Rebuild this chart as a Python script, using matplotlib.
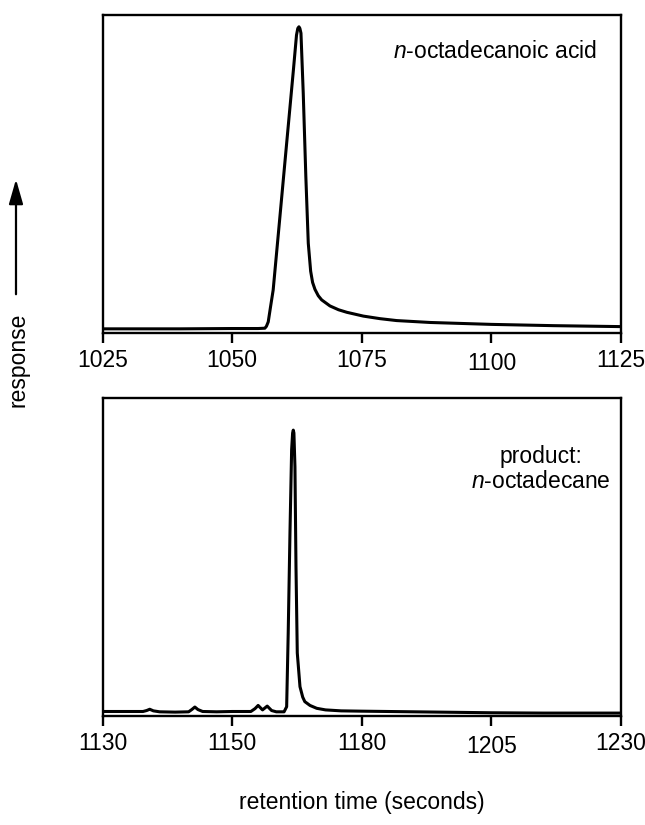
import matplotlib
matplotlib.use("Agg")
import matplotlib.pyplot as plt
from matplotlib.patches import FancyArrowPatch
from matplotlib.transforms import ScaledTranslation

plt.rcParams['font.family'] = ['Liberation Sans', 'DejaVu Sans']
plt.rcParams['mathtext.fontset'] = 'custom'
plt.rcParams['mathtext.it'] = 'Liberation Sans:italic'
plt.rcParams['mathtext.rm'] = 'Liberation Sans'

# top panel: n-octadecanoic acid (retention time in s, normalised response)
acid_time = [1025, 1040, 1050, 1055, 1056.3, 1056.6, 1056.95, 1057.4, 1057.9,
             1059.2, 1060.5, 1061.8, 1062.4, 1062.65, 1062.87, 1063.05,
             1063.26, 1063.7, 1064.2, 1064.67, 1065.13, 1065.5, 1065.96,
             1066.6, 1067.25, 1068.85, 1070.5, 1072.1, 1075.3, 1078.5,
             1081.7, 1088.2, 1100, 1112, 1125]
acid_resp = [0.014, 0.014, 0.015, 0.015, 0.016, 0.022, 0.036, 0.084, 0.136,
             0.366, 0.597, 0.827, 0.937, 0.958, 0.963, 0.958,
             0.943, 0.754, 0.492, 0.283, 0.195, 0.160, 0.138,
             0.118, 0.105, 0.086, 0.074, 0.066, 0.054, 0.046,
             0.040, 0.034, 0.028, 0.024, 0.021]

# bottom panel: product n-octadecane
alk_time = [1130, 1135, 1137.8, 1138.5, 1139.1, 1139.8, 1141, 1144, 1146.6,
            1147.2, 1147.8, 1148.4, 1149.3, 1152, 1155, 1158.6, 1159.4, 1160.0,
            1160.85, 1161.75, 1162.6, 1163.5, 1165.0, 1165.5, 1165.8, 1166.14,
            1166.46, 1166.65, 1166.78, 1166.9, 1167.1, 1167.3, 1167.55, 1168.07,
            1168.6, 1169.0, 1170.0, 1171.3, 1173, 1176, 1180, 1190, 1205,
            1215, 1230]
alk_resp = [0.015, 0.015, 0.015, 0.018, 0.022, 0.017, 0.014, 0.013, 0.014,
            0.021, 0.029, 0.021, 0.015, 0.014, 0.015, 0.015, 0.024, 0.034,
            0.020, 0.032, 0.018, 0.014, 0.014, 0.030, 0.261, 0.576,
            0.837, 0.890, 0.899, 0.890, 0.784, 0.470, 0.199, 0.093,
            0.060, 0.046, 0.034, 0.025, 0.020, 0.017, 0.016, 0.014, 0.011,
            0.010, 0.010]

acid_ticks = [1025, 1050, 1075, 1100, 1125]
alk_ticks = [1130, 1155, 1180, 1205, 1230]
alk_ticklabels = ['1130', '1150', '1180', '1205', '1230']

fig = plt.figure(figsize=(6.45, 8.25), dpi=100)
ax1 = fig.add_axes([0.159, 0.5960, 0.804, 0.3858])
ax2 = fig.add_axes([0.159, 0.1318, 0.804, 0.3858])

ax1.plot(acid_time, acid_resp, color='black', lw=2.2, solid_joinstyle='round')
ax2.plot(alk_time, alk_resp, color='black', lw=2.2, solid_joinstyle='round')

ax1.set_xlim(1025, 1125)
ax2.set_xlim(1130, 1230)
ax1.set_xticks(acid_ticks)
ax2.set_xticks(alk_ticks)
ax2.set_xticklabels(alk_ticklabels)

for ax in (ax1, ax2):
    ax.set_ylim(0, 1)
    ax.set_yticks([])
    for s in ax.spines.values():
        s.set_linewidth(1.7)
    ax.tick_params(axis='x', direction='out', length=7, width=1.7,
                   labelsize=16.5, pad=4)

# the fourth labels sit a little lower in the original
for ax in (ax1, ax2):
    lab = ax.get_xticklabels()[3]
    lab.set_transform(lab.get_transform() +
                      ScaledTranslation(0, -3 / 100, fig.dpi_scale_trans))

ax1.text(0.757, 0.884, r'$n$-octadecanoic acid', transform=ax1.transAxes,
         ha='center', va='center', fontsize=16.5)
ax2.text(0.846, 0.776, 'product:\n' + r'$n$-octadecane', transform=ax2.transAxes,
         ha='center', va='center', fontsize=16.5, multialignment='center',
         linespacing=1.1)

fig.text(0.0285, 0.5636, 'response', rotation=90, ha='center', va='center',
         fontsize=16.5)
fig.add_artist(FancyArrowPatch(
    (0.0248, 0.640), (0.0248, 0.786), transform=fig.transFigure,
    arrowstyle='-|>,head_length=1.5,head_width=0.43', mutation_scale=10,
    color='black', lw=1.6))

fig.text(0.561, 0.0267, 'retention time (seconds)', ha='center', va='center',
         fontsize=16.5)

fig.savefig('out.png', dpi=100)
